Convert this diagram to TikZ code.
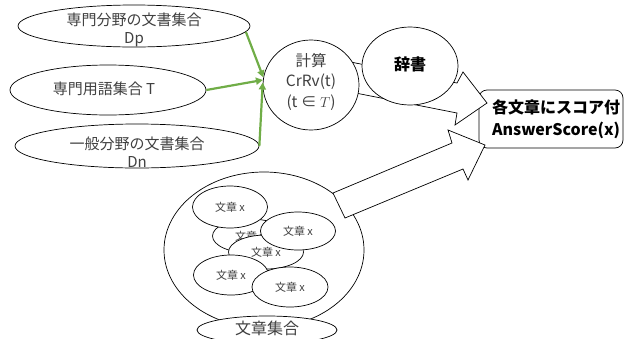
\documentclass[tikz,border=0pt]{standalone}
\usepackage{fontspec}
\setmainfont{Noto Sans CJK JP}
\usetikzlibrary{shapes.geometric,arrows.meta}
\definecolor{tg}{HTML}{404040}
\definecolor{gr}{HTML}{70AD47}
\begin{document}
\begin{tikzpicture}[x=1pt,y=-1pt,
  ell/.style={draw=black,line width=0.7pt,fill=white,ellipse,inner sep=0pt},
  txt/.style={text=tg,font=\fontsize{15}{18}\selectfont,align=center,inner sep=0pt},
  ctxt/.style={text=tg,font=\fontsize{15.5}{20.5}\selectfont,align=center,inner sep=0pt},
  btxt/.style={text=black,font=\bfseries\fontsize{16}{22}\selectfont,align=center,inner sep=0pt},
  sm/.style={ell,text=tg,font=\fontsize{11}{13}\selectfont,minimum width=75pt},
  garrow/.style={draw=gr,line width=2.2pt,-{Triangle[length=7pt,width=7pt]}},
  blk/.style={draw=black,line width=0.7pt,fill=white,line join=miter}]
\useasboundingbox (0,0) rectangle (624,338);
% input ellipses
\node[ell,minimum width=232pt,minimum height=42pt] (dp) at (134,26) {};
\node[txt] (dpt) at (134,30) {専門分野の文書集合\\Dp};
\node[ell,minimum width=196pt,minimum height=50pt] (tt) at (108,90) {};
\node[txt] (ttt) at (104,89) {専門用語集合 T};
\node[ell,minimum width=244pt,minimum height=44pt] (dn) at (137,146) {};
\node[txt] (dnt) at (137,152) {一般分野の文書集合\\Dn};
% result box
\node[draw=black,line width=0.7pt,fill=white,rounded corners=8pt,minimum width=144pt,minimum height=58pt,inner sep=0pt] (box) at (551,119) {};
\node[btxt] (boxt) at (556,119) {各文章にスコア付\\AnswerScore(x)};
% block arrow 1
\draw[blk] (320,56) -- (457,83) -- (463,72) -- (487,103) -- (455,125) -- (457,113) -- (320,86) -- cycle;
% calc and dictionary
\node[ell,minimum width=96pt,minimum height=90pt] (calc) at (311,85) {};
\node[ctxt] (calct) at (311,81.5) {計算\\CrRv(t)\\(t ∈ $T$)};
\node[ell,minimum width=96pt,minimum height=78pt] (dict) at (410,66) {};
\node[btxt] (dictt) at (410,64) {辞書};
% green arrows
\draw[garrow] (dp.-3) -- (calc.171);
\draw[garrow] (tt.east) -- (calc.174);
\draw[garrow] (dn.east) -- (calc.177);
% sentence pool
\node[ell,minimum width=200pt,minimum height=156pt] (pool) at (264,250) {};
\draw[blk] (333,193) -- (452,143) -- (448,130) -- (485,145) -- (468,180) -- (463,169) -- (345,218) -- cycle;
\node[sm,minimum height=34pt] (s2) at (250,236) {文章 x};
\node[sm,minimum height=34pt] (s4) at (266,252) {文章 x};
\node[sm,minimum height=42pt] (s1) at (230,207) {文章 x};
\node[sm,minimum height=38pt] (s3) at (298,231) {文章 x};
\node[sm,minimum height=40pt] (s5) at (231,275) {文章 x};
\node[sm,minimum width=76pt,minimum height=40pt] (s6) at (290,287) {文章 x};
\node[ell,minimum width=140pt,minimum height=28pt] (lbl) at (267,330) {};
\node[txt,font=\fontsize{16}{18}\selectfont] (lblt) at (267,328) {文章集合};
\end{tikzpicture}
\end{document}
